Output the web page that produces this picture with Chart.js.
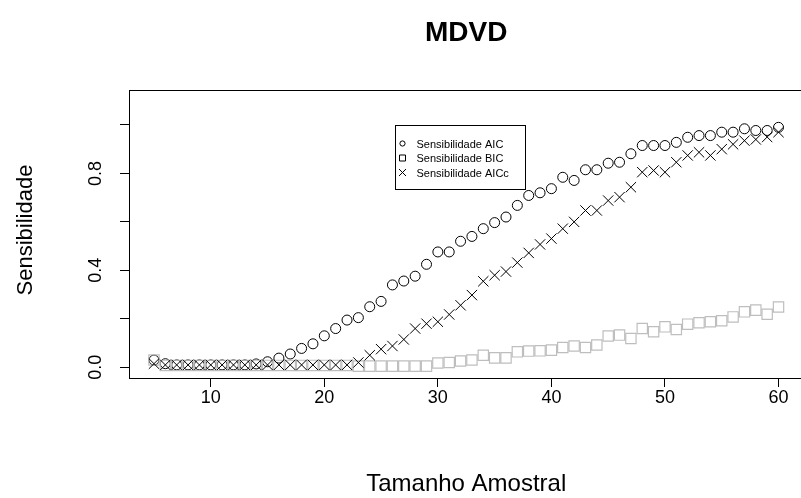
<!DOCTYPE html>
<html>
<head>
<meta charset="utf-8">
<script src="https://cdn.jsdelivr.net/npm/chart.js@4.4.1/dist/chart.umd.min.js"></script>
<style>
  html, body { margin: 0; padding: 0; background: #fff; overflow: hidden; }
  #wrap { width: 801px; height: 498px; overflow: hidden; }
  canvas { display: block; }
</style>
</head>
<body>
<div id="wrap"><canvas id="chart" width="812" height="498"></canvas></div>
<script>
const tamanhos = [5, 6, 7, 8, 9, 10, 11, 12, 13, 14, 15, 16, 17, 18, 19, 20,
  21, 22, 23, 24, 25, 26, 27, 28, 29, 30, 31, 32, 33, 34, 35, 36, 37, 38, 39, 40,
  41, 42, 43, 44, 45, 46, 47, 48, 49, 50, 51, 52, 53, 54, 55, 56, 57, 58, 59, 60];

const sensAIC = [0.03, 0.015, 0.01, 0.01, 0.01, 0.01, 0.01, 0.01, 0.01, 0.014, 0.023, 0.038,
  0.055, 0.078, 0.097, 0.13, 0.16, 0.195, 0.205, 0.25, 0.272, 0.34, 0.356, 0.376,
  0.425, 0.476, 0.476, 0.52, 0.54, 0.572, 0.597, 0.62, 0.668, 0.709, 0.72, 0.737,
  0.784, 0.771, 0.815, 0.815, 0.842, 0.846, 0.881, 0.915, 0.915, 0.915, 0.928, 0.949,
  0.956, 0.956, 0.97, 0.97, 0.984, 0.977, 0.977, 0.99];

const sensBIC = [0.03, 0.008, 0.008, 0.008, 0.008, 0.008, 0.008, 0.008, 0.008, 0.008, 0.008, 0.008,
  0.008, 0.008, 0.008, 0.008, 0.008, 0.008, 0.005, 0.005, 0.005, 0.005, 0.005, 0.005,
  0.005, 0.018, 0.02, 0.026, 0.03, 0.05, 0.039, 0.039, 0.064, 0.067, 0.068, 0.071,
  0.082, 0.088, 0.082, 0.092, 0.129, 0.133, 0.119, 0.16, 0.147, 0.167, 0.156, 0.178,
  0.184, 0.188, 0.192, 0.208, 0.229, 0.236, 0.219, 0.249];

const sensAICc = [0.015, 0.01, 0.01, 0.01, 0.01, 0.01, 0.01, 0.01, 0.01, 0.01, 0.01, 0.01,
  0.01, 0.01, 0.01, 0.01, 0.01, 0.01, 0.02, 0.05, 0.075, 0.088, 0.115, 0.16,
  0.18, 0.188, 0.218, 0.256, 0.298, 0.355, 0.38, 0.395, 0.432, 0.472, 0.507, 0.531,
  0.572, 0.6, 0.647, 0.647, 0.688, 0.702, 0.743, 0.805, 0.812, 0.805, 0.846, 0.874,
  0.887, 0.874, 0.9, 0.92, 0.935, 0.94, 0.95, 0.97];

const xTicks = [10, 20, 30, 40, 50, 60];
const yTicks = [0, 0.2, 0.4, 0.6, 0.8, 1.0];
const yTickLabels = [0, 0.4, 0.8];

const tituloGrafico = "MDVD";
const tituloX = "Tamanho Amostral";
const tituloY = "Sensibilidade";
const legendas = ["Sensibilidade AIC", "Sensibilidade BIC", "Sensibilidade AICc"];

const FONT = "'Liberation Sans', Arial, sans-serif";

const toPoints = (ys) => tamanhos.map((x, i) => ({ x: x, y: ys[i] }));

// moldura, titulos, rotulos do eixo y e legenda no estilo do R
const rStyle = {
  id: "rStyle",
  beforeDraw(chart) {
    const ctx = chart.ctx;
    ctx.save();
    ctx.fillStyle = "#fff";
    ctx.fillRect(0, 0, chart.width, chart.height);
    ctx.restore();
  },
  afterDraw(chart) {
    const { ctx, chartArea: a, scales } = chart;
    ctx.save();
    ctx.strokeStyle = "#000";
    ctx.lineWidth = 1;
    ctx.strokeRect(Math.round(a.left) + 0.5, Math.round(a.top) + 0.5,
      Math.round(a.right - a.left), Math.round(a.bottom - a.top));

    const cx = (a.left + a.right) / 2;
    ctx.fillStyle = "#000";
    ctx.textAlign = "center";
    ctx.textBaseline = "middle";
    ctx.font = "bold 28px " + FONT;
    ctx.fillText(tituloGrafico, cx, 33);

    ctx.font = "24px " + FONT;
    ctx.fillText(tituloX, cx, 484);
    ctx.font = "22px " + FONT;
    ctx.save();
    ctx.translate(26, (a.top + a.bottom) / 2 - 4);
    ctx.rotate(-Math.PI / 2);
    ctx.fillText(tituloY, 0, 0);
    ctx.restore();

    ctx.font = "18px " + FONT;
    yTickLabels.forEach((v) => {
      const py = scales.y.getPixelForValue(v);
      ctx.save();
      ctx.translate(96, py);
      ctx.rotate(-Math.PI / 2);
      ctx.fillText(v.toFixed(1), 0, 0);
      ctx.restore();
    });

    // legenda
    const lx = Math.round(scales.x.getPixelForValue(26.2)) + 0.5;
    const ly = Math.round(scales.y.getPixelForValue(1.0)) + 0.5;
    ctx.strokeRect(lx, ly, 130, 64);
    ctx.font = "11px " + FONT;
    ctx.textAlign = "left";
    const rows = [18, 32.5, 47];
    const sx = lx + 7;
    legendas.forEach((txt, i) => {
      const ry = ly + rows[i];
      ctx.beginPath();
      if (i === 0) {
        ctx.arc(sx, ry, 2.6, 0, Math.PI * 2);
      } else if (i === 1) {
        ctx.rect(sx - 3, ry - 3, 6, 6);
      } else {
        ctx.moveTo(sx - 3.5, ry - 3.5);
        ctx.lineTo(sx + 3.5, ry + 3.5);
        ctx.moveTo(sx + 3.5, ry - 3.5);
        ctx.lineTo(sx - 3.5, ry + 3.5);
      }
      ctx.stroke();
      ctx.fillText(txt, lx + 21, ry + 1);
    });
    ctx.restore();
  },
};

new Chart(document.getElementById("chart"), {
  type: "scatter",
  data: {
    datasets: [
      {
        label: legendas[0],
        data: toPoints(sensAIC),
        pointStyle: "circle",
        pointRadius: 5,
        pointBorderWidth: 1,
        borderColor: "#000",
        backgroundColor: "rgba(0,0,0,0)",
        order: 2,
      },
      {
        label: legendas[1],
        data: toPoints(sensBIC),
        pointStyle: "rect",
        pointRadius: 7.3,
        pointBorderWidth: 1.2,
        borderColor: "#bebebe",
        backgroundColor: "rgba(0,0,0,0)",
        order: 1,
      },
      {
        label: legendas[2],
        data: toPoints(sensAICc),
        pointStyle: "crossRot",
        pointRadius: 7.3,
        pointBorderWidth: 1,
        borderColor: "#000",
        backgroundColor: "#000",
        order: 0,
      },
    ],
  },
  options: {
    responsive: false,
    animation: false,
    devicePixelRatio: 1,
    layout: { padding: { top: 90, right: 2, left: 0, bottom: 0 } },
    plugins: {
      legend: { display: false },
      title: { display: false },
      tooltip: { enabled: false },
    },
    scales: {
      x: {
        type: "linear",
        min: 2.8,
        max: 62.2,
        afterBuildTicks: (scale) => {
          scale.ticks = xTicks.map((v) => ({ value: v }));
        },
        afterFit: (scale) => {
          scale.height = 120;
        },
        border: { display: false },
        grid: {
          drawOnChartArea: false,
          drawTicks: true,
          tickLength: 9,
          color: "#000",
          lineWidth: 1,
        },
        ticks: {
          color: "#000",
          padding: 0,
          maxRotation: 0,
          font: { size: 18, family: FONT },
          callback: (v) => String(v),
        },
      },
      y: {
        type: "linear",
        min: -0.044,
        max: 1.144,
        afterBuildTicks: (scale) => {
          scale.ticks = yTicks.map((v) => ({ value: v }));
        },
        afterFit: (scale) => {
          scale.width = 129;
        },
        border: { display: false },
        grid: {
          drawOnChartArea: false,
          drawTicks: true,
          tickLength: 9,
          color: "#000",
          lineWidth: 1,
        },
        ticks: { display: false },
      },
    },
  },
  plugins: [rStyle],
});
</script>
</body>
</html>
